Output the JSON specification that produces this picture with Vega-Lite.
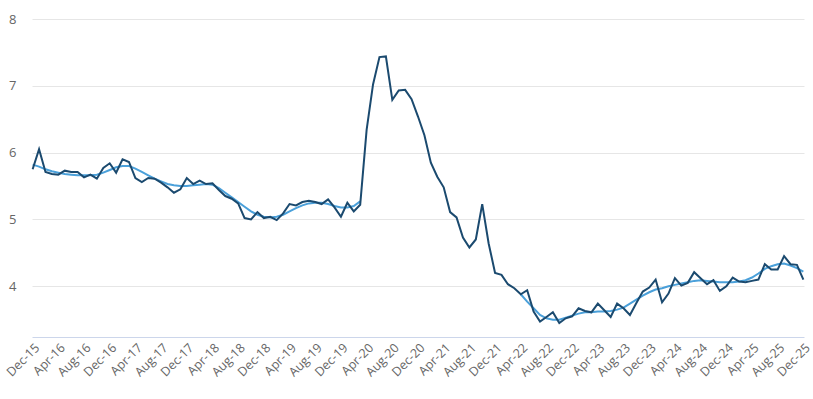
{
  "$schema": "https://vega.github.io/schema/vega-lite/v6.json",
  "width": 772,
  "height": 318,
  "autosize": {"type": "none"},
  "padding": {"left": 32, "top": 19, "right": 9, "bottom": 62},
  "config": {
    "view": {"stroke": null},
    "font": "Open Sans",
    "axis": {"labelFont": "Open Sans", "labelColor": "#666666"}
  },
  "data": {
    "values": [
      {"m":"Dec-15","a":5.75,"t":5.82},{"m":"Jan-16","a":6.05,"t":5.79},{"m":"Feb-16","a":5.71,"t":5.75},{"m":"Mar-16","a":5.68,"t":5.72},{"m":"Apr-16","a":5.67,"t":5.70},{"m":"May-16","a":5.73,"t":5.68},{"m":"Jun-16","a":5.71,"t":5.67},{"m":"Jul-16","a":5.71,"t":5.66},{"m":"Aug-16","a":5.63,"t":5.66},{"m":"Sep-16","a":5.67,"t":5.66},{"m":"Oct-16","a":5.61,"t":5.67},{"m":"Nov-16","a":5.77,"t":5.70},{"m":"Dec-16","a":5.84,"t":5.74},
      {"m":"Jan-17","a":5.70,"t":5.78},{"m":"Feb-17","a":5.90,"t":5.80},{"m":"Mar-17","a":5.86,"t":5.80},{"m":"Apr-17","a":5.62,"t":5.76},{"m":"May-17","a":5.56,"t":5.71},{"m":"Jun-17","a":5.62,"t":5.66},{"m":"Jul-17","a":5.61,"t":5.61},{"m":"Aug-17","a":5.55,"t":5.57},{"m":"Sep-17","a":5.48,"t":5.53},{"m":"Oct-17","a":5.40,"t":5.51},{"m":"Nov-17","a":5.45,"t":5.50},{"m":"Dec-17","a":5.62,"t":5.50},
      {"m":"Jan-18","a":5.53,"t":5.51},{"m":"Feb-18","a":5.58,"t":5.52},{"m":"Mar-18","a":5.53,"t":5.53},{"m":"Apr-18","a":5.54,"t":5.52},{"m":"May-18","a":5.44,"t":5.47},{"m":"Jun-18","a":5.35,"t":5.40},{"m":"Jul-18","a":5.31,"t":5.33},{"m":"Aug-18","a":5.24,"t":5.26},{"m":"Sep-18","a":5.02,"t":5.19},{"m":"Oct-18","a":5.00,"t":5.12},{"m":"Nov-18","a":5.11,"t":5.07},{"m":"Dec-18","a":5.02,"t":5.04},
      {"m":"Jan-19","a":5.04,"t":5.03},{"m":"Feb-19","a":4.99,"t":5.04},{"m":"Mar-19","a":5.09,"t":5.07},{"m":"Apr-19","a":5.23,"t":5.12},{"m":"May-19","a":5.21,"t":5.17},{"m":"Jun-19","a":5.26,"t":5.21},{"m":"Jul-19","a":5.28,"t":5.24},{"m":"Aug-19","a":5.26,"t":5.25},{"m":"Sep-19","a":5.23,"t":5.25},{"m":"Oct-19","a":5.30,"t":5.23},{"m":"Nov-19","a":5.18,"t":5.20},{"m":"Dec-19","a":5.04,"t":5.18},
      {"m":"Jan-20","a":5.25,"t":5.18},{"m":"Feb-20","a":5.12,"t":5.20},{"m":"Mar-20","a":5.22,"t":5.27},{"m":"Apr-20","a":6.34,"t":null},{"m":"May-20","a":7.02,"t":null},{"m":"Jun-20","a":7.43,"t":null},{"m":"Jul-20","a":7.44,"t":null},{"m":"Aug-20","a":6.79,"t":null},{"m":"Sep-20","a":6.93,"t":null},{"m":"Oct-20","a":6.94,"t":null},{"m":"Nov-20","a":6.80,"t":null},{"m":"Dec-20","a":6.54,"t":null},
      {"m":"Jan-21","a":6.26,"t":null},{"m":"Feb-21","a":5.85,"t":null},{"m":"Mar-21","a":5.64,"t":null},{"m":"Apr-21","a":5.48,"t":null},{"m":"May-21","a":5.11,"t":null},{"m":"Jun-21","a":5.03,"t":null},{"m":"Jul-21","a":4.73,"t":null},{"m":"Aug-21","a":4.58,"t":null},{"m":"Sep-21","a":4.70,"t":null},{"m":"Oct-21","a":5.23,"t":null},{"m":"Nov-21","a":4.64,"t":null},{"m":"Dec-21","a":4.20,"t":null},
      {"m":"Jan-22","a":4.17,"t":null},{"m":"Feb-22","a":4.03,"t":null},{"m":"Mar-22","a":3.97,"t":null},{"m":"Apr-22","a":3.88,"t":3.88},{"m":"May-22","a":3.94,"t":3.77},{"m":"Jun-22","a":3.62,"t":3.67},{"m":"Jul-22","a":3.47,"t":3.57},{"m":"Aug-22","a":3.54,"t":3.52},{"m":"Sep-22","a":3.61,"t":3.50},{"m":"Oct-22","a":3.45,"t":3.50},{"m":"Nov-22","a":3.52,"t":3.53},{"m":"Dec-22","a":3.55,"t":3.56},
      {"m":"Jan-23","a":3.67,"t":3.59},{"m":"Feb-23","a":3.63,"t":3.61},{"m":"Mar-23","a":3.61,"t":3.61},{"m":"Apr-23","a":3.74,"t":3.62},{"m":"May-23","a":3.64,"t":3.62},{"m":"Jun-23","a":3.54,"t":3.63},{"m":"Jul-23","a":3.74,"t":3.65},{"m":"Aug-23","a":3.67,"t":3.68},{"m":"Sep-23","a":3.57,"t":3.74},{"m":"Oct-23","a":3.75,"t":3.80},{"m":"Nov-23","a":3.92,"t":3.86},{"m":"Dec-23","a":3.98,"t":3.91},
      {"m":"Jan-24","a":4.10,"t":3.95},{"m":"Feb-24","a":3.76,"t":3.97},{"m":"Mar-24","a":3.89,"t":4.00},{"m":"Apr-24","a":4.12,"t":4.02},{"m":"May-24","a":4.01,"t":4.04},{"m":"Jun-24","a":4.05,"t":4.06},{"m":"Jul-24","a":4.21,"t":4.08},{"m":"Aug-24","a":4.12,"t":4.09},{"m":"Sep-24","a":4.03,"t":4.08},{"m":"Oct-24","a":4.09,"t":4.07},{"m":"Nov-24","a":3.93,"t":4.06},{"m":"Dec-24","a":4.00,"t":4.06},
      {"m":"Jan-25","a":4.13,"t":4.06},{"m":"Feb-25","a":4.07,"t":4.07},{"m":"Mar-25","a":4.06,"t":4.09},{"m":"Apr-25","a":4.08,"t":4.13},{"m":"May-25","a":4.10,"t":4.19},{"m":"Jun-25","a":4.33,"t":4.26},{"m":"Jul-25","a":4.25,"t":4.30},{"m":"Aug-25","a":4.25,"t":4.33},{"m":"Sep-25","a":4.45,"t":4.34},{"m":"Oct-25","a":4.33,"t":4.31},{"m":"Nov-25","a":4.32,"t":4.27},{"m":"Dec-25","a":4.10,"t":4.22}
    ]
  },
  "encoding": {
    "x": {
      "field": "m",
      "type": "ordinal",
      "sort": null,
      "scale": {"type": "point", "padding": 0.1},
      "axis": {
        "title": null,
        "values": ["Dec-15","Apr-16","Aug-16","Dec-16","Apr-17","Aug-17","Dec-17","Apr-18","Aug-18","Dec-18","Apr-19","Aug-19","Dec-19","Apr-20","Aug-20","Dec-20","Apr-21","Aug-21","Dec-21","Apr-22","Aug-22","Dec-22","Apr-23","Aug-23","Dec-23","Apr-24","Aug-24","Dec-24","Apr-25","Aug-25","Dec-25"],
        "labelAngle": -45,
        "labelFontSize": 12.5,
        "labelPadding": 4,
        "ticks": false,
        "grid": false,
        "domain": true,
        "domainColor": "#ccd6eb",
        "domainWidth": 1,
        "labelOverlap": false
      }
    }
  },
  "layer": [
    {
      "mark": {"type": "line", "color": "#4aa0da", "strokeWidth": 2, "invalid": "break-paths-filter-domains"},
      "encoding": {
        "y": {
          "field": "t",
          "type": "quantitative",
          "scale": {"domain": [3.24, 8], "nice": false, "zero": false},
          "axis": {
            "title": null,
            "values": [4, 5, 6, 7, 8],
            "format": "d",
            "labelFontSize": 13,
            "labelPadding": 16,
            "ticks": false,
            "domain": false,
            "gridColor": "#e6e6e6",
            "gridWidth": 1
          }
        }
      }
    },
    {
      "mark": {"type": "line", "color": "#1b4a6f", "strokeWidth": 2},
      "encoding": {
        "y": {"field": "a", "type": "quantitative"}
      }
    }
  ]
}
